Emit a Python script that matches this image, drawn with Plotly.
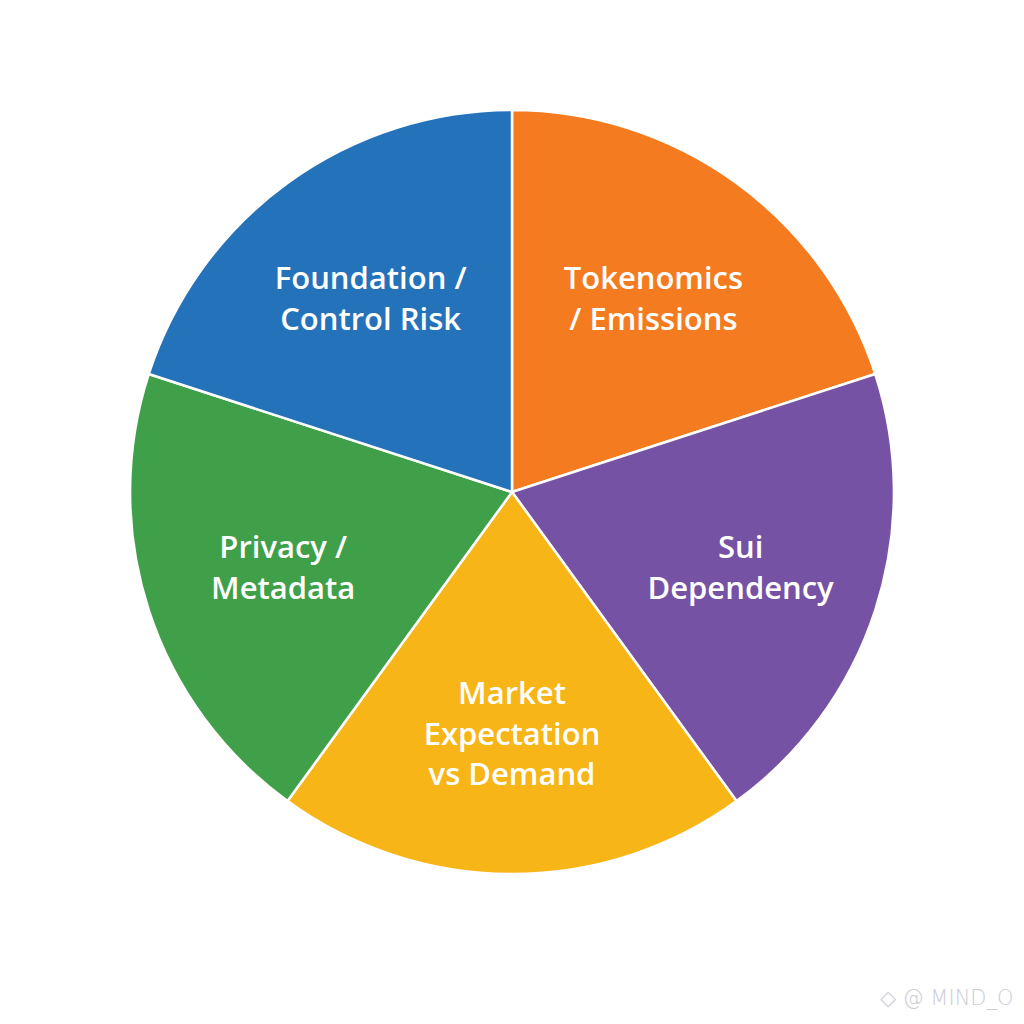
import plotly.graph_objects as go

labels = ["Tokenomics<br>/ Emissions", "Sui<br>Dependency", "Market<br>Expectation<br>vs Demand",
          "Privacy /<br>Metadata", "Foundation /<br>Control Risk"]
values = [1, 1, 1, 1, 1]
colors = ["#F47B20", "#7652A5", "#F8B518", "#40A04A", "#2472BA"]
watermark = "◇ @ MIND_O"

fig = go.Figure(go.Pie(
    labels=labels,
    values=values,
    sort=False,
    direction="clockwise",
    rotation=0,
    marker=dict(colors=colors, line=dict(color="white", width=2.5)),
    textinfo="label",
    textposition="inside",
    insidetextorientation="horizontal",
    textfont=dict(family="Open Sans", size=31, color="white", weight=600),
    hoverinfo="label",
    domain=dict(x=[0.127, 0.873], y=[0.1465, 0.8925]),
    showlegend=False,
))

fig.add_annotation(
    text=watermark, x=1016, y=998, xref="x", yref="y", showarrow=False,
    xanchor="right", yanchor="middle",
    font=dict(family="DejaVu Sans", size=21, color="#CDCCD8", weight=300),
)
fig.update_xaxes(visible=False, range=[0, 1024])
fig.update_yaxes(visible=False, range=[1024, 0])

fig.update_layout(
    width=1024, height=1024,
    margin=dict(l=0, r=0, t=0, b=0),
    paper_bgcolor="white", plot_bgcolor="white",
)
fig.write_html("out.html", config={"displayModeBar": False},
               post_script="document.body.style.margin='0';document.body.style.overflow='hidden';")
